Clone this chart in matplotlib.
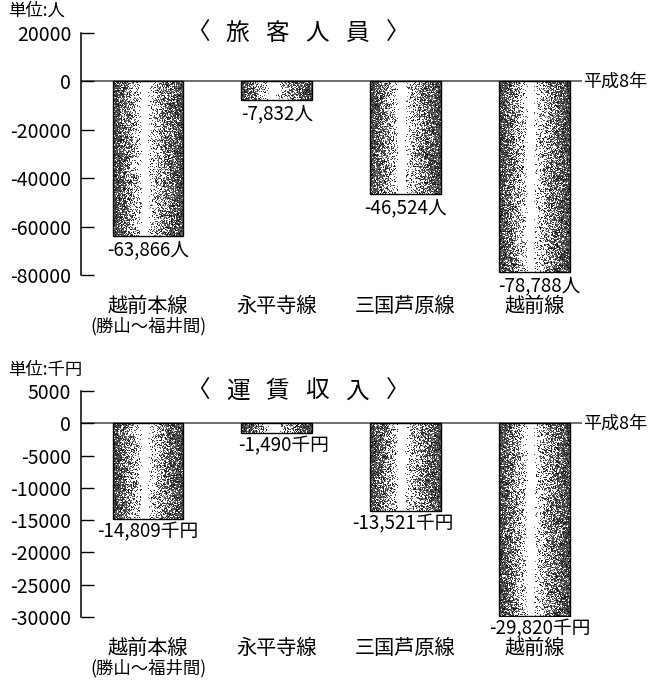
import numpy as np
import matplotlib.pyplot as plt
from matplotlib.patches import Rectangle

plt.rcParams['font.family'] = ['Noto Sans CJK JP', 'DejaVu Sans']

lines = ['越前本線', '永平寺線', '三国芦原線', '越前線']
line_notes = ['(勝山〜福井間)', '', '', '']
passengers = [-63866, -7832, -46524, -78788]
revenue = [-14809, -1490, -13521, -29820]

pass_ticks = [20000, 0, -20000, -40000, -60000, -80000]
rev_ticks = [5000, 0, -5000, -10000, -15000, -20000, -25000, -30000]


def cylinder_shade(n=72, rows=260, seed=3):
    # dark edges, white band a bit left of centre, stippled like the print
    t = np.linspace(0, 1, n)
    d = np.where(t < 0.40, (0.40 - t) / 0.40, np.where(t > 0.50, (t - 0.50) / 0.50, 0.0))
    bright = 1 - 0.97 * d ** 0.75
    rng = np.random.default_rng(seed)
    r = rng.random((rows, n))
    dark = 0.05 + 0.45 * rng.random((rows, n))
    return np.where(r < np.tile(bright, (rows, 1)), 1.0, dark)


def draw_panel(ax, values, ticks, unit, title, unit_label, label_offsets):
    x = np.arange(len(values))
    width = 0.55
    for i, (xi, v) in enumerate(zip(x, values)):
        ax.imshow(cylinder_shade(seed=i), cmap='gray', vmin=0, vmax=1, aspect='auto',
                  extent=(xi - width / 2, xi + width / 2, v, 0),
                  interpolation='nearest', zorder=2)
        ax.add_patch(Rectangle((xi - width / 2, v), width, -v, fill=False,
                               edgecolor='black', lw=1.0, zorder=3))
    ymax, ymin = ticks[0], ticks[-1]
    span = ymax - ymin
    for xi, v, dx in zip(x, values, label_offsets):
        ax.text(xi + dx, v - span * 0.012, f'{v:,}{unit}', ha='center', va='top',
                fontsize=13.5, zorder=4)
    ax.axhline(0, color='#555555', lw=1.2, zorder=1)
    ax.set_xlim(-0.52, 3.37)
    ax.set_ylim(ymin, ymax)
    ax.set_yticks(ticks)
    ax.set_yticklabels([str(t) for t in ticks])
    ax.tick_params(axis='y', direction='in', length=9, width=1, labelsize=14, pad=7)
    ax.set_xticks(x)
    ax.set_xticklabels(lines, fontsize=14.5)
    ax.tick_params(axis='x', length=0, pad=15)
    for xi, note in zip(x, line_notes):
        if note:
            ax.annotate(note, (xi, 0), xycoords=('data', 'axes fraction'),
                        xytext=(0, -30), textcoords='offset points',
                        ha='center', va='top', fontsize=12.5)
    for s in ['top', 'right', 'bottom']:
        ax.spines[s].set_visible(False)
    ax.spines['left'].set_linewidth(1.1)
    ax.text(3.38, 0, '平成8年', ha='left', va='center', fontsize=13, clip_on=False)
    # spaced-out title, one glyph at a time
    for k, ch in enumerate(title):
        ax.text(1.16 + (k - (len(title) - 1) / 2) * 0.31, ymax, ch,
                ha='center', va='center', fontsize=17)
    ax.text(-0.146, 1.055, unit_label, ha='left', va='bottom', fontsize=12.5,
            transform=ax.transAxes)


fig = plt.figure(figsize=(6.51, 6.82), dpi=100)
ax1 = fig.add_axes([0.1244, 0.5968, 0.7696, 0.3548])
ax2 = fig.add_axes([0.1244, 0.0953, 0.7696, 0.3314])

draw_panel(ax1, passengers, pass_ticks, '人', '〈旅客人員〉', '単位:人',
           [0, 0, 0, 0.04])
draw_panel(ax2, revenue, rev_ticks, '千円', '〈運賃収入〉', '単位:千円',
           [0, 0.05, -0.02, 0.04])

fig.savefig('out.png', dpi=100)
